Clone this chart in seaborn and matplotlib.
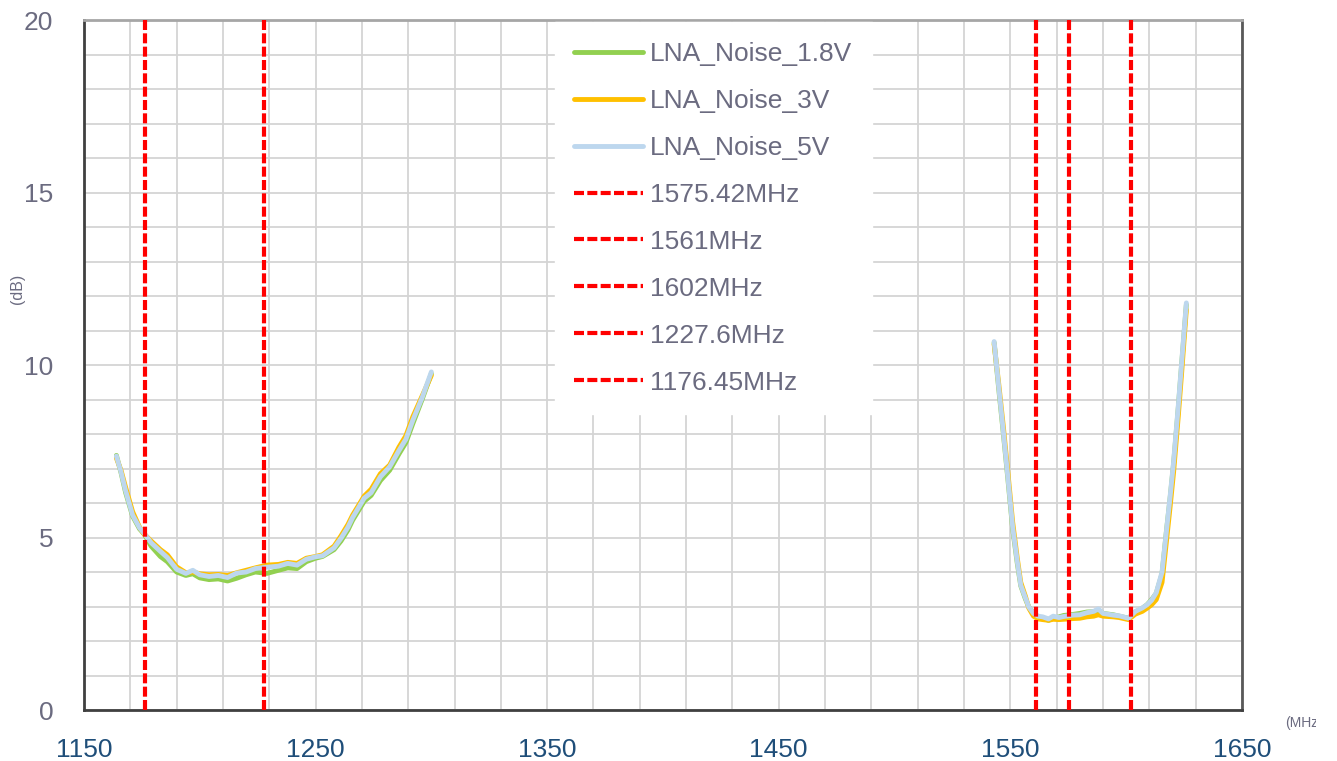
import numpy as np
import pandas as pd
import matplotlib
matplotlib.use("Agg")
import matplotlib.pyplot as plt
import seaborn as sns
from matplotlib.ticker import MultipleLocator
from matplotlib.transforms import Bbox

# frequencies (MHz) of the two measured bands
freq_low = [1164, 1166, 1168, 1171, 1174, 1176, 1179, 1183, 1186, 1190,
            1194, 1197, 1200, 1204, 1208, 1212, 1216, 1220, 1224, 1229,
            1234, 1238, 1242, 1246, 1250, 1253, 1258, 1261, 1264, 1266,
            1271, 1274, 1278, 1282, 1286, 1289, 1292, 1296, 1300]
freq_high = [1543, 1545, 1547, 1549, 1551, 1553, 1554.5, 1556.5, 1558, 1560,
             1562, 1564, 1566.5, 1568.5, 1571, 1573, 1577, 1580, 1583, 1586,
             1588, 1590, 1594.5, 1597, 1601, 1604, 1607, 1609, 1611, 1613,
             1615.5, 1617.5, 1619, 1620.5, 1622.5, 1624, 1626]

# noise figure (dB)
nf_18v_low = [7.38, 6.88, 6.3, 5.62, 5.25, 5.1, 4.75, 4.45, 4.3, 4.0,
              3.9, 3.95, 3.83, 3.78, 3.8, 3.74, 3.82, 3.92, 4.0, 3.96,
              4.05, 4.12, 4.1, 4.3, 4.4, 4.45, 4.65, 4.9, 5.22, 5.5,
              6.05, 6.22, 6.65, 6.95, 7.42, 7.75, 8.3, 9.0, 9.75]
nf_3v_low = [7.3, 6.95, 6.45, 5.75, 5.3, 5.1, 4.9, 4.65, 4.5, 4.15,
             3.98, 4.0, 3.95, 3.92, 3.93, 3.9, 3.98, 4.05, 4.12, 4.2,
             4.22, 4.28, 4.25, 4.4, 4.45, 4.5, 4.75, 5.05, 5.38, 5.65,
             6.2, 6.4, 6.85, 7.1, 7.62, 7.95, 8.5, 9.1, 9.7]
nf_5v_low = [7.36, 6.9, 6.35, 5.65, 5.28, 5.12, 4.85, 4.6, 4.42, 4.08,
             3.96, 4.05, 3.92, 3.87, 3.9, 3.84, 3.97, 4.0, 4.1, 4.14,
             4.17, 4.25, 4.2, 4.37, 4.44, 4.47, 4.7, 4.98, 5.3, 5.58,
             6.14, 6.3, 6.76, 7.05, 7.52, 7.85, 8.4, 9.05, 9.8]

nf_18v_high = [10.65, 9.3, 8.0, 6.65, 5.25, 4.25, 3.6, 3.22, 2.98, 2.8,
               2.7, 2.66, 2.6, 2.66, 2.7, 2.74, 2.77, 2.8, 2.84, 2.85,
               2.9, 2.8, 2.76, 2.72, 2.66, 2.84, 2.95, 3.05, 3.2, 3.38,
               3.95, 5.25, 6.15, 7.15, 8.75, 10.05, 11.75]
nf_3v_high = [10.6, 9.45, 8.2, 6.85, 5.45, 4.4, 3.7, 3.3, 2.95, 2.72,
              2.64, 2.62, 2.6, 2.63, 2.62, 2.63, 2.65, 2.66, 2.7, 2.72,
              2.76, 2.72, 2.7, 2.68, 2.62, 2.78, 2.86, 2.95, 3.05, 3.2,
              3.7, 4.95, 5.9, 6.9, 8.5, 9.8, 11.6]
nf_5v_high = [10.68, 9.35, 8.05, 6.7, 5.3, 4.3, 3.62, 3.25, 2.98, 2.8,
              2.72, 2.7, 2.64, 2.72, 2.68, 2.71, 2.75, 2.76, 2.82, 2.86,
              2.93, 2.8, 2.75, 2.73, 2.66, 2.86, 2.96, 3.05, 3.18, 3.4,
              4.0, 5.25, 6.2, 7.2, 8.8, 10.1, 11.8]

series_names = ["LNA_Noise_1.8V", "LNA_Noise_3V", "LNA_Noise_5V"]
series_colors = ["#92d050", "#ffc000", "#bdd7ee"]

marker_freqs = [1575.42, 1561, 1602, 1227.6, 1176.45]
marker_labels = ["1575.42MHz", "1561MHz", "1602MHz", "1227.6MHz", "1176.45MHz"]

#%%
rows = []
for name, lo, hi in zip(series_names,
                        [nf_18v_low, nf_3v_low, nf_5v_low],
                        [nf_18v_high, nf_3v_high, nf_5v_high]):
    for f, v in zip(freq_low, lo):
        rows.append((name, "low", f, v))
    for f, v in zip(freq_high, hi):
        rows.append((name, "high", f, v))
df = pd.DataFrame(rows, columns=["series", "band", "freq", "nf"])

#%%
sns.set_style("white")
plt.rcParams["font.family"] = ["Liberation Sans", "DejaVu Sans"]

grey_txt = "#6b6b80"
blue_txt = "#1f4e79"

fig = plt.figure(figsize=(13.37, 7.61), dpi=100)
ax = fig.add_axes([0.0628, 0.067, 0.8661, 0.9067])

sns.lineplot(data=df, x="freq", y="nf", hue="series", units="band",
             estimator=None, sort=False, hue_order=series_names,
             palette=series_colors, linewidth=3.5, ax=ax, zorder=3)

for f, lab in zip(marker_freqs, marker_labels):
    ax.axvline(f, color="#ff0000", lw=3, linestyle=(0, (2.4, 0.8)),
               label=lab, zorder=4)

ax.set_xlim(1150, 1650)
ax.set_ylim(0, 20)
ax.set_xticks(range(1150, 1651, 100))
ax.set_yticks(range(0, 21, 5))
ax.xaxis.set_minor_locator(MultipleLocator(20, offset=10))
ax.yaxis.set_minor_locator(MultipleLocator(1))
ax.grid(which="both", color="#d4d4d4", lw=1.3, zorder=0)
ax.set_axisbelow(True)

ax.tick_params(axis="both", which="major", direction="in", length=5,
               width=1.5, color="#404040", labelsize=19)
ax.tick_params(axis="both", which="minor", length=0)
ax.tick_params(axis="x", pad=20, labelcolor=blue_txt)
ax.tick_params(axis="y", pad=22, labelcolor=grey_txt)

ax.spines["left"].set_color("#404040")
ax.spines["bottom"].set_color("#404040")
ax.spines["right"].set_color("#595959")
ax.spines["top"].set_color("#a6a6a6")
for s in ax.spines.values():
    s.set_linewidth(2)

ax.set_xlabel("")
ax.set_ylabel("")

handles, labels = ax.get_legend_handles_labels()
leg = ax.legend(handles, labels, loc="upper left", bbox_to_anchor=(0.4065, 0.997),
                borderaxespad=0, borderpad=0.75, fontsize=19, labelspacing=0.87,
                handlelength=2.6, handletextpad=0.25, frameon=True,
                fancybox=False, framealpha=1, facecolor="white",
                edgecolor="white", labelcolor=grey_txt)
for line in leg.get_lines():
    line.set_linewidth(3.5 if line.get_linestyle() == "-" else 3)

fig.text(18 / 1337, 1 - 289 / 761, "(dB)", rotation=90, fontsize=11.5,
         color=grey_txt, ha="center", va="center")
mhz = fig.text(1285 / 1337, 1 - 723 / 761, "(MHz)", fontsize=10,
               color=grey_txt, ha="left", va="center")
# the unit label is cut off at the chart edge in the original
mhz.set_clip_box(Bbox.from_extents(0, 0, 1316, 761))
mhz.set_clip_on(True)

fig.savefig("out.png", dpi=100)
